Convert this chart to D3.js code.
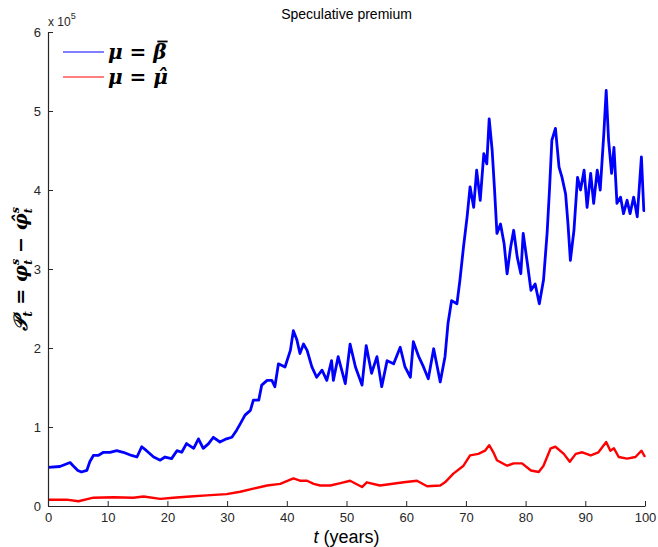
<!DOCTYPE html>
<html>
<head>
<meta charset="utf-8">
<script src="https://cdn.jsdelivr.net/npm/d3@7"></script>
<style>
  body { margin: 0; background: #fff; }
  text { font-family: "Liberation Sans", Arial, sans-serif; }
</style>
</head>
<body>
<div id="chart"></div>
<script>
// data, values in units of 1e5
var blueT = [0,2,3.7,4.2,5,5.6,6.5,7,7.6,8.4,9.3,10.4,11.5,12.6,14,14.9,15.7,16.5,17.7,18.8,19.6,20.7,21.6,22.4,23.2,24.4,25.2,26,26.9,27.7,28.8,29.9,30.8,31.6,32.2,33,33.9,34.4,35.3,35.8,36.7,37.5,38,38.6,39.7,40.6,41.1,41.7,42.2,42.8,43.4,44.2,45,45.9,46.7,47.5,47.8,48.6,49.8,50.6,51.5,52.6,53.3,54.2,55.1,55.9,56.8,57.9,59,59.8,60.7,61.2,62.1,62.9,63.7,64.6,65.1,65.7,66.5,67,67.6,68.5,69,69.6,70.2,70.7,71.3,71.8,72.4,73,73.5,73.9,74.4,74.8,75.2,75.8,76.4,76.9,77.5,78,78.6,79.2,79.6,80.3,80.9,81.6,82.3,83,83.6,84,84.4,85,85.6,86.1,86.7,87.1,87.5,88.1,88.7,89.2,89.8,90.3,90.9,91.4,92,92.5,93.1,93.5,93.9,94.4,94.8,95.3,95.9,96.4,97,97.5,98.1,98.7,99.4,99.8,100];
var blueV = [0.49,0.50,0.55,0.51,0.45,0.43,0.45,0.56,0.64,0.64,0.68,0.68,0.70,0.68,0.64,0.62,0.75,0.70,0.62,0.58,0.62,0.60,0.70,0.68,0.79,0.73,0.85,0.73,0.79,0.87,0.81,0.85,0.87,0.96,1.04,1.15,1.21,1.34,1.34,1.53,1.59,1.59,1.51,1.80,1.76,1.97,2.22,2.10,1.93,2.05,1.97,1.76,1.63,1.72,1.59,1.84,1.59,1.89,1.55,2.05,1.76,1.53,2.03,1.68,1.89,1.51,1.84,1.80,2.01,1.76,1.63,2.08,1.89,1.76,1.61,1.99,1.80,1.57,1.89,2.31,2.60,2.56,2.86,3.28,3.66,4.04,3.78,4.25,3.87,4.46,4.33,4.90,4.50,4.00,3.45,3.57,3.32,2.94,3.28,3.49,3.15,2.94,3.45,3.07,2.73,2.81,2.56,2.86,3.45,4.00,4.63,4.78,4.29,4.16,3.95,3.57,3.11,3.49,4.16,4.00,4.25,3.78,4.21,3.83,4.25,4.00,4.71,5.26,4.63,4.21,4.54,3.83,3.91,3.70,3.87,3.70,3.91,3.66,4.42,3.74,3.74];

var redT = [0,3.1,5.1,7.6,11,14.3,16,18.8,21,23.8,26.6,29.9,32.2,34.4,36.7,38.9,41.1,42.2,43.4,44.5,45.6,47.3,49,50.6,52.6,53.4,55.6,59.6,61.8,63.5,65.7,66.5,67.9,69.6,70.7,72.1,73.2,73.9,74.6,75.2,76.9,78,79.4,80.9,82.2,83,84.2,85,86.4,87.4,88.4,89.5,90.9,92.2,93.5,94.2,94.8,95.6,97,98.4,99.4,100];
var redV = [0.08,0.08,0.06,0.105,0.11,0.105,0.12,0.09,0.105,0.12,0.135,0.15,0.18,0.22,0.26,0.28,0.35,0.32,0.32,0.28,0.26,0.26,0.29,0.32,0.24,0.30,0.26,0.30,0.32,0.25,0.26,0.30,0.41,0.51,0.64,0.66,0.70,0.77,0.68,0.58,0.51,0.54,0.54,0.45,0.43,0.51,0.73,0.75,0.66,0.56,0.66,0.68,0.64,0.68,0.81,0.70,0.73,0.62,0.60,0.62,0.70,0.62];

var xTicks = [0,10,20,30,40,50,60,70,80,90,100];
var yTicks = [0,1,2,3,4,5,6];

var W = 658, H = 547;
var margin = {top: 32, right: 13, bottom: 41, left: 48},
    width = W - margin.left - margin.right,
    height = H - margin.top - margin.bottom;

var svg = d3.select("#chart")
    .append("svg")
    .attr("width", W)
    .attr("height", H);

var g = svg.append("g")
    .attr("transform", "translate(" + margin.left + "," + margin.top + ")");

var x = d3.scaleLinear().domain([0, 100]).range([0, width]);
var y = d3.scaleLinear().domain([0, 6]).range([height, 0]);

var line = d3.line()
    .x(function(d) { return x(d[0]); })
    .y(function(d) { return y(d[1]); });

var blue = blueT.map(function(t, i) { return [t, blueV[i]]; });
var red = redT.map(function(t, i) { return [t, redV[i]]; });

g.append("path")
    .datum(blue)
    .attr("fill", "none")
    .attr("stroke", "#0000ff")
    .attr("stroke-width", 2.8)
    .attr("stroke-linejoin", "round")
    .attr("d", line);

g.append("path")
    .datum(red)
    .attr("fill", "none")
    .attr("stroke", "#ff0000")
    .attr("stroke-width", 2.4)
    .attr("stroke-linejoin", "round")
    .attr("d", line);

// axes, MATLAB style ticks pointing inwards
var xAxis = g.append("g")
    .attr("transform", "translate(0," + height + ")")
    .call(d3.axisBottom(x).tickValues(xTicks).tickFormat(d3.format("d"))
      .tickSizeInner(-5).tickSizeOuter(0).tickPadding(7));
var yAxis = g.append("g")
    .call(d3.axisLeft(y).tickValues(yTicks).tickFormat(d3.format("d"))
      .tickSizeInner(-5).tickSizeOuter(0).tickPadding(7));

[xAxis, yAxis].forEach(function(a) {
  a.select(".domain").attr("stroke", "#262626").attr("stroke-width", 1.2);
  a.selectAll(".tick line").attr("stroke", "#262626");
  a.selectAll(".tick text")
    .attr("fill", "#262626")
    .style("font-size", "13px")
    .style("font-family", "'Liberation Sans', Arial, sans-serif");
});

// exponent label
var ex = svg.append("text")
    .attr("x", 48)
    .attr("y", 26)
    .attr("fill", "#262626")
    .style("font-size", "12px");
ex.append("tspan").text("x 10");
ex.append("tspan").attr("dy", -7).style("font-size", "9px").text("5");

// title
svg.append("text")
    .attr("x", margin.left + width / 2)
    .attr("y", 19)
    .attr("text-anchor", "middle")
    .attr("fill", "#000")
    .style("font-size", "14px")
    .text("Speculative premium");

// x label
var xl = svg.append("text")
    .attr("x", margin.left + width / 2)
    .attr("y", 543)
    .attr("text-anchor", "middle")
    .attr("fill", "#000")
    .style("font-size", "18px");
xl.append("tspan").style("font-style", "italic").text("t");
xl.append("tspan").text(" (years)");

// y label
var mathFont = "'DejaVu Serif', 'Liberation Serif', serif";
var yl = svg.append("text")
    .attr("transform", "translate(27," + (margin.top + height / 2) + ") rotate(-90)")
    .attr("text-anchor", "middle")
    .attr("fill", "#000")
    .style("font-family", mathFont)
    .style("font-style", "italic")
    .style("font-weight", "bold")
    .style("font-size", "19px");
yl.append("tspan").text("\uD835\uDCAB");
yl.append("tspan").attr("dy", 5).style("font-size", "12px").text("t");
yl.append("tspan").attr("dy", -5).text(" = \u03C6");
yl.append("tspan").attr("dy", -8).style("font-size", "11px").text("s");
yl.append("tspan").attr("dx", -6).attr("dy", 13).style("font-size", "11px").text("t");
yl.append("tspan").attr("dy", -5).text(" \u2212 \u03C6\u0302");
yl.append("tspan").attr("dy", -8).style("font-size", "11px").text("s");
yl.append("tspan").attr("dx", -6).attr("dy", 13).style("font-size", "11px").text("t");

// legend
var legend = [
  {color: "#0000ff", label: "\u03BC = \u03B2", bar: true},
  {color: "#ff0000", label: "\u03BC = \u03BC\u0302", bar: false}
];
legend.forEach(function(d, i) {
  var ly = 52 + i * 25;
  svg.append("line")
    .attr("x1", 63).attr("x2", 104)
    .attr("y1", ly).attr("y2", ly)
    .attr("stroke", d.color)
    .attr("stroke-width", 1);
  var t = svg.append("text")
    .attr("x", 108)
    .attr("y", ly + 7)
    .attr("fill", "#000")
    .style("font-family", mathFont)
    .style("font-style", "italic")
    .style("font-weight", "bold")
    .style("font-size", "20px")
    .text(d.label);
  if (d.bar) {
    // bar over beta
    var e = t.node().getExtentOfChar(4);
    svg.append("line")
      .attr("x1", e.x + 4).attr("x2", e.x + e.width + 1)
      .attr("y1", e.y + 1.5).attr("y2", e.y + 1.5)
      .attr("stroke", "#000")
      .attr("stroke-width", 1.8);
  }
});
</script>
</body>
</html>
